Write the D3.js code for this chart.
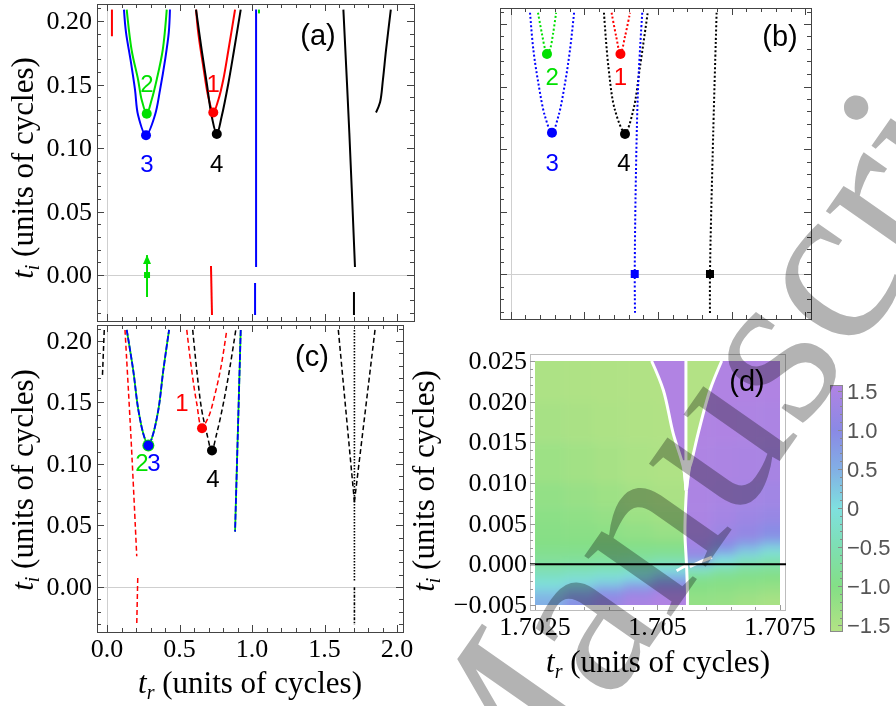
<!DOCTYPE html>
<html>
<head>
<meta charset="utf-8">
<script src="https://cdn.jsdelivr.net/npm/d3@7"></script>
<style>
  body { margin: 0; background: #fff; }
  svg { display: block; }
</style>
</head>
<body>
<svg width="896" height="706"></svg>
<script>
// ---------- data: points are [t_r, t_i] ----------
// panel (a) - solid
const aBlue   = [[0.117,0.209],[0.131,0.191],[0.163,0.169],[0.193,0.146],[0.214,0.126],[0.269,0.110],[0.331,0.126],[0.366,0.146],[0.400,0.169],[0.426,0.191],[0.434,0.209]];
const aGreen  = [[0.136,0.209],[0.170,0.177],[0.214,0.154],[0.239,0.138],[0.274,0.127],[0.308,0.138],[0.343,0.154],[0.384,0.177],[0.412,0.209]];
const aRed    = [[0.614,0.209],[0.630,0.190],[0.664,0.164],[0.699,0.140],[0.733,0.128],[0.768,0.138],[0.802,0.154],[0.837,0.177],[0.883,0.209]];
const aBlack  = [[0.614,0.209],[0.653,0.177],[0.688,0.151],[0.722,0.125],[0.757,0.111],[0.791,0.125],[0.837,0.151],[0.876,0.177],[0.922,0.209]];
const aRedTop = [[0.034,0.209],[0.034,0.188]];
const aRedLow = [[0.717,0.0071],[0.724,-0.0315]];
const aBlueV  = [[1.028,0.209],[1.028,0.0063]];
const aBlueV2 = [[1.021,-0.0063],[1.021,-0.0315]];
const aGreenTick = [[1.048,0.209],[1.048,0.206]];
const aBlackV  = [[1.630,0.209],[1.671,0.112],[1.710,0.0063]];
const aBlackV2 = [[1.703,-0.0134],[1.703,-0.0315]];
const aBlackR  = [[1.855,0.128],[1.883,0.136],[1.903,0.154],[1.924,0.177],[1.957,0.209]];
const aArrow   = [[0.276,-0.0173],[0.276,0.0157]];
const aDots    = [[0.269,0.110,"blue"],[0.274,0.127,"#00e000"],[0.733,0.128,"red"],[0.757,0.111,"black"]];
const aLabels  = [["2",0.276,0.151,"#00e000"],["1",0.733,0.151,"red"],["3",0.276,0.088,"blue"],["4",0.757,0.088,"black"]];

// panel (b) - dotted
const bBlue   = [[0.131,0.209],[0.153,0.180],[0.187,0.153],[0.233,0.126],[0.280,0.113],[0.323,0.126],[0.369,0.153],[0.403,0.180],[0.430,0.209]];
const bGreen  = [[0.185,0.209],[0.212,0.192],[0.233,0.180],[0.246,0.176],[0.267,0.180],[0.287,0.192],[0.308,0.209]];
const bRed    = [[0.685,0.209],[0.716,0.190],[0.745,0.176],[0.776,0.190],[0.810,0.209]];
const bBlack  = [[0.633,0.209],[0.663,0.166],[0.708,0.131],[0.776,0.113],[0.832,0.131],[0.878,0.166],[0.930,0.209]];
const bBlueV  = [[0.893,0.209],[0.866,0.153],[0.851,0.086],[0.842,0],[0.844,-0.032]];
const bBlackV = [[1.398,0.209],[1.375,0.113],[1.353,0],[1.353,-0.032]];
const bDots   = [[0.246,0.176,"#00e000"],[0.745,0.176,"red"],[0.280,0.113,"blue"],[0.776,0.112,"black"]];
const bSquares = [[0.842,0,"blue"],[1.353,0,"black"]];
const bLabels = [["2",0.282,0.158,"#00e000"],["1",0.744,0.158,"red"],["3",0.282,0.089,"blue"],["4",0.769,0.089,"black"]];

// panel (c) - dashed
const cBlackL = [[-0.019,0.209],[-0.032,0.170]];
const cRed    = [[0.124,0.209],[0.166,0.120],[0.205,0.025]];
const cRed2   = [[0.212,0.0073],[0.205,-0.031]];
const cBlueGreen = [[0.136,0.209],[0.181,0.176],[0.216,0.144],[0.257,0.122],[0.285,0.115],[0.312,0.122],[0.354,0.144],[0.388,0.176],[0.428,0.209]];
const cRedP   = [[0.550,0.209],[0.584,0.176],[0.619,0.149],[0.653,0.130],[0.699,0.138],[0.745,0.157],[0.786,0.179],[0.826,0.209]];
const cBlackP = [[0.591,0.209],[0.619,0.176],[0.653,0.144],[0.688,0.125],[0.722,0.111],[0.757,0.125],[0.802,0.149],[0.848,0.179],[0.888,0.209]];
const cBGLine = [[0.922,0.209],[0.883,0.045]];
const cV1     = [[1.595,0.209],[1.706,0.0693]];
const cV2     = [[1.848,0.209],[1.706,0.0693]];
const cCenter = [[1.706,0.209],[1.706,0.0043]];
const cCenter2 = [[1.706,-0.0003],[1.706,-0.031]];
const cDots   = [[0.285,0.115,"blue"],[0.655,0.129,"red"],[0.724,0.111,"black"]];
const cLabels = [["1",0.517,0.150,"red"],["2",0.241,0.101,"#00e000"],["3",0.324,0.101,"blue"],["4",0.731,0.088,"black"]];

// tick labels
const yTickVals = [0, 0.05, 0.10, 0.15, 0.20];
const xTickVals = [0, 0.5, 1.0, 1.5, 2.0];
const dYTicks = [-0.005, 0, 0.005, 0.010, 0.015, 0.020, 0.025];
const dXTicks = [1.7025, 1.705, 1.7075];
const cbTicks = [-1.5, -1.0, -0.5, 0, 0.5, 1.0, 1.5];

// panel (d) - phase map, values read per cell (radians)
const dYEdges = [0.025, 0.020, 0.015, 0.010, 0.007, 0.005, 0.003, 0.002, 0.001, 0, -0.001, -0.002, -0.003, -0.004, -0.005];
const dXLeft  = [1.7025, 1.7031, 1.7037, 1.7043, 1.7049, 1.70558];
const dXRight = [1.70558, 1.7061, 1.7066, 1.7071, 1.7075];
const phaseLeft = [
  [-1.50,-1.52,-1.54,-1.55,-1.56],
  [-1.42,-1.46,-1.50,-1.53,-1.55],
  [-1.30,-1.36,-1.43,-1.48,-1.52],
  [-1.18,-1.24,-1.32,-1.40,-1.47],
  [-1.10,-1.15,-1.22,-1.30,-1.38],
  [-1.05,-1.08,-1.12,-1.18,-1.25],
  [-1.00,-1.00,-1.00,-1.02,-1.05],
  [-0.90,-0.90,-0.88,-0.86,-0.85],
  [-0.80,-0.78,-0.75,-0.70,-0.60],
  [-0.55,-0.50,-0.45,-0.35,-0.10],
  [-0.30,-0.20,-0.10, 0.05, 0.40],
  [-0.05, 0.10, 0.30, 0.60, 1.00],
  [ 0.30, 0.60, 0.90, 1.20, 1.45],
  [ 0.50, 0.90, 1.20, 1.45, 1.55]
];
const phaseRight = [
  [1.56, 1.56, 1.55, 1.55],
  [1.55, 1.54, 1.52, 1.50],
  [1.52, 1.50, 1.47, 1.43],
  [1.50, 1.46, 1.40, 1.33],
  [1.48, 1.40, 1.30, 1.20],
  [1.45, 1.30, 1.15, 0.95],
  [1.35, 1.00, 0.70, 0.40],
  [1.20, 0.60, 0.20,-0.10],
  [0.80, 0.00,-0.35,-0.50],
  [-0.20,-0.50,-0.70,-0.75],
  [-0.80,-0.90,-0.95,-1.00],
  [-1.00,-1.05,-1.10,-1.15],
  [-1.10,-1.15,-1.22,-1.30],
  [-1.20,-1.25,-1.35,-1.45]
];
// white branch cuts in (d)
const cutLeft  = [[1.70488,0.025],[1.70512,0.0214],[1.70532,0.0161],[1.70549,0.0128],[1.70554,0.0116],[1.70558,0.0091]];
const cutRight = [[1.70631,0.025],[1.70607,0.0214],[1.70583,0.0161],[1.70570,0.0128],[1.70564,0.0116],[1.70559,0.0091]];
const cutMid   = [[1.70558,0.025],[1.70558,0.0091]];
const cutDown  = [[1.70559,0.0091],[1.70556,0.0040],[1.70559,0.0002],[1.70561,-0.003],[1.70561,-0.0055]];
const arcLeft  = [[1.70539,-0.0008],[1.70549,-0.00045],[1.70558,-0.0002]];
const arcRight = [[1.70566,-0.0003],[1.70587,0.0003],[1.70611,0.00087]];

// colour map of the phase
const phaseStops  = [-1.5708, -1.0, -0.5, 0, 0.5, 1.0, 1.5708];
const phaseColors = ["#b3e285", "#84df86", "#7edfb2", "#7fe0df", "#82afe5", "#8a89e5", "#b183e3"];

// ---------- drawing ----------
const svg = d3.select("svg");
const SERIF = "'Liberation Serif','Times New Roman',serif";
const SANS = "'Liberation Sans',Arial,sans-serif";

const phaseColor = d3.scaleLinear().domain(phaseStops).range(phaseColors);

const boxA = {x0: 97, x1: 414, y0: 4, y1: 321, xd: [-0.069, 2.117], yd: [-0.0362, 0.2134]};
const boxB = {x0: 500, x1: 811, y0: 8, y1: 319, xd: [-0.073, 2.039], yd: [-0.036, 0.2128]};
const boxC = {x0: 97, x1: 403, y0: 325, y1: 632, xd: [-0.069, 2.041], yd: [-0.0366, 0.213]};

function makeScales(b) {
    const sx = d3.scaleLinear().domain(b.xd).range([b.x0, b.x1]);
    const sy = d3.scaleLinear().domain(b.yd).range([b.y1, b.y0]);
    return [sx, sy];
}

function drawFrame(b, sx, sy) {
    const g = svg.append("g").attr("stroke", "#444").attr("stroke-width", 1);
    // zero lines
    g.append("line").attr("x1", b.x0).attr("x2", b.x1)
        .attr("y1", Math.round(sy(0)) + 0.5).attr("y2", Math.round(sy(0)) + 0.5)
        .attr("stroke", "#cfcfcf");
    g.append("line").attr("y1", b.y0).attr("y2", b.y1)
        .attr("x1", Math.round(sx(0)) + 0.5).attr("x2", Math.round(sx(0)) + 0.5)
        .attr("stroke", "#cfcfcf");
    g.append("rect").attr("x", b.x0 + 0.5).attr("y", b.y0 + 0.5)
        .attr("width", b.x1 - b.x0).attr("height", b.y1 - b.y0).attr("fill", "none");
    // ticks on all four sides, pointing in
    d3.range(-3, 22).forEach(k => {
        const yy = Math.round(sy(k / 100)) + 0.5;
        const len = k % 5 === 0 ? 7 : 4;
        g.append("line").attr("x1", b.x0).attr("x2", b.x0 + len).attr("y1", yy).attr("y2", yy);
        g.append("line").attr("x1", b.x1).attr("x2", b.x1 - len).attr("y1", yy).attr("y2", yy);
    });
    d3.range(0, 21).forEach(k => {
        const xx = Math.round(sx(k / 10)) + 0.5;
        const len = k % 5 === 0 ? 7 : 4;
        g.append("line").attr("y1", b.y0).attr("y2", b.y0 + len).attr("x1", xx).attr("x2", xx);
        g.append("line").attr("y1", b.y1).attr("y2", b.y1 - len).attr("x1", xx).attr("x2", xx);
    });
}

function curve(sx, sy, pts, color, width, dash) {
    const line = d3.line().x(d => sx(d[0])).y(d => sy(d[1])).curve(d3.curveCatmullRom.alpha(0.5));
    svg.append("path").attr("d", line(pts)).attr("fill", "none")
        .attr("stroke", color).attr("stroke-width", width)
        .attr("stroke-dasharray", dash || null);
}

function dots(sx, sy, data, r) {
    svg.append("g").selectAll("circle").data(data).enter().append("circle")
        .attr("cx", d => sx(d[0])).attr("cy", d => sy(d[1])).attr("r", r)
        .attr("fill", d => d[2]);
}

function numLabels(sx, sy, data) {
    svg.append("g").selectAll("text").data(data).enter().append("text")
        .attr("x", d => sx(d[1])).attr("y", d => sy(d[2]) + 8.5)
        .attr("text-anchor", "middle").attr("font-family", SANS).attr("font-size", 24)
        .attr("fill", d => d[3]).text(d => d[0]);
}

function panelTag(x, y, s) {
    svg.append("text").attr("x", x).attr("y", y).attr("text-anchor", "middle")
        .attr("font-family", SANS).attr("font-size", 29).text(s);
}

function axisTitle(x, y, sub, rotate) {
    const t = svg.append("text").attr("font-family", SERIF).attr("font-size", 31)
        .attr("text-anchor", "middle")
        .attr("transform", `translate(${x},${y})` + (rotate ? " rotate(-90)" : ""));
    t.append("tspan").attr("font-style", "italic").text("t");
    t.append("tspan").attr("font-style", "italic").attr("font-size", 20).attr("dy", 6).text(sub);
    t.append("tspan").attr("dy", -6).text(" (units of cycles)");
}

// ----- panel (a)
{
    const [sx, sy] = makeScales(boxA);
    drawFrame(boxA, sx, sy);
    svg.append("g").selectAll("text").data(yTickVals).enter().append("text")
        .attr("x", 92).attr("y", d => sy(d) + 8).attr("text-anchor", "end")
        .attr("font-family", SERIF).attr("font-size", 26).text(d => d.toFixed(2));
    curve(sx, sy, aBlue, "blue", 2);
    curve(sx, sy, aGreen, "#00e000", 2);
    curve(sx, sy, aRed, "red", 2);
    curve(sx, sy, aBlack, "black", 2);
    curve(sx, sy, aRedTop, "red", 2);
    curve(sx, sy, aRedLow, "red", 2);
    curve(sx, sy, aBlueV, "blue", 2);
    curve(sx, sy, aBlueV2, "blue", 2);
    curve(sx, sy, aGreenTick, "#00e000", 2);
    curve(sx, sy, aBlackV, "black", 2);
    curve(sx, sy, aBlackV2, "black", 2);
    curve(sx, sy, aBlackR, "black", 2);
    // green arrow with square
    curve(sx, sy, aArrow, "#00e000", 2);
    const ax = sx(aArrow[1][0]), ay = sy(aArrow[1][1]);
    svg.append("path").attr("d", `M${ax},${ay} l-4,9 l8,0 z`).attr("fill", "#00e000");
    svg.append("rect").attr("x", sx(aArrow[0][0]) - 3).attr("y", sy(0) - 3)
        .attr("width", 6).attr("height", 6).attr("fill", "#00e000");
    dots(sx, sy, aDots, 5);
    numLabels(sx, sy, aLabels);
    panelTag(318, 45, "(a)");
    axisTitle(33, 168, "i", true);
}

// ----- panel (b)
{
    const [sx, sy] = makeScales(boxB);
    drawFrame(boxB, sx, sy);
    const dot = "2,2.2";
    curve(sx, sy, bBlue, "blue", 2, dot);
    curve(sx, sy, bGreen, "#00e000", 2, dot);
    curve(sx, sy, bBlack, "black", 2, dot);
    curve(sx, sy, bRed, "red", 2, dot);
    curve(sx, sy, bBlueV, "blue", 2, dot);
    curve(sx, sy, bBlackV, "black", 2, dot);
    svg.append("g").selectAll("rect").data(bSquares).enter().append("rect")
        .attr("x", d => sx(d[0]) - 4).attr("y", d => sy(d[1]) - 4)
        .attr("width", 8).attr("height", 8).attr("fill", d => d[2]);
    dots(sx, sy, bDots, 5);
    numLabels(sx, sy, bLabels);
    panelTag(780, 46, "(b)");
}

// ----- panel (c)
{
    const [sx, sy] = makeScales(boxC);
    drawFrame(boxC, sx, sy);
    svg.append("g").selectAll("text").data(yTickVals).enter().append("text")
        .attr("x", 92).attr("y", d => sy(d) + 8).attr("text-anchor", "end")
        .attr("font-family", SERIF).attr("font-size", 26).text(d => d.toFixed(2));
    svg.append("g").selectAll("text").data(xTickVals).enter().append("text")
        .attr("x", d => sx(d)).attr("y", 657).attr("text-anchor", "middle")
        .attr("font-family", SERIF).attr("font-size", 26).text(d => d.toFixed(1));
    const dash = "5,3";
    curve(sx, sy, cBlackL, "black", 1.5, dash);
    curve(sx, sy, cRed, "red", 1.5, dash);
    curve(sx, sy, cRed2, "red", 1.5, dash);
    curve(sx, sy, cBlueGreen, "#00e000", 1.8);
    curve(sx, sy, cBlueGreen, "blue", 1.8, "6,2");
    curve(sx, sy, cRedP, "red", 1.5, dash);
    curve(sx, sy, cBlackP, "black", 1.5, dash);
    curve(sx, sy, cBGLine, "#00e000", 1.8);
    curve(sx, sy, cBGLine, "blue", 1.8, "6,2");
    curve(sx, sy, cV1, "black", 1.5, dash);
    curve(sx, sy, cV2, "black", 1.5, dash);
    curve(sx, sy, cCenter, "black", 1.6, "1.5,1.5");
    curve(sx, sy, cCenter2, "black", 1.6, "3,1.5,1.5,1.5");
    svg.append("circle").attr("cx", sx(cDots[0][0])).attr("cy", sy(cDots[0][1]))
        .attr("r", 6).attr("fill", "#00e000");
    dots(sx, sy, cDots, 5);
    numLabels(sx, sy, cLabels);
    panelTag(312, 366, "(c)");
    axisTitle(33, 480, "i", true);
    axisTitle(250, 693, "r", false);
}

// ----- panel (d)
{
    const sx = d3.scaleLinear().domain([1.7025, 1.7075]).range([535, 780]);
    const sy = d3.scaleLinear().domain([-0.005, 0.025]).range([605, 361]);
    const defs = svg.append("defs");
    defs.append("filter").attr("id", "soft").attr("x", "-20%").attr("y", "-20%")
        .attr("width", "140%").attr("height", "140%")
        .append("feGaussianBlur").attr("stdDeviation", 5);
    defs.append("clipPath").attr("id", "clipL").append("rect")
        .attr("x", sx(1.7025)).attr("y", sy(0.025))
        .attr("width", sx(1.70558) - sx(1.7025)).attr("height", sy(-0.005) - sy(0.025));
    defs.append("clipPath").attr("id", "clipR").append("rect")
        .attr("x", sx(1.70558)).attr("y", sy(0.025))
        .attr("width", sx(1.7075) - sx(1.70558)).attr("height", sy(-0.005) - sy(0.025));

    // frame
    svg.append("rect").attr("x", 530.5).attr("y", 354.5).attr("width", 255).attr("height", 256)
        .attr("fill", "white").attr("stroke", "#bdbdbd");

    function cells(xEdges, values, clipId) {
        const g = svg.append("g").attr("clip-path", `url(#${clipId})`)
            .append("g").attr("filter", "url(#soft)");
        const nR = values.length, nC = xEdges.length - 1;
        values.forEach((row, i) => row.forEach((v, j) => {
            let x0 = sx(xEdges[j]), x1 = sx(xEdges[j + 1]);
            let y0 = sy(dYEdges[i]), y1 = sy(dYEdges[i + 1]);
            if (j === 0) x0 -= 20;
            if (j === nC - 1) x1 += 20;
            if (i === 0) y0 -= 20;
            if (i === nR - 1) y1 += 20;
            g.append("rect").attr("x", x0).attr("y", y0)
                .attr("width", x1 - x0 + 0.5).attr("height", y1 - y0 + 0.5)
                .attr("fill", phaseColor(v));
        }));
    }
    cells(dXLeft, phaseLeft, "clipL");
    cells(dXRight, phaseRight, "clipR");

    // wedges between the cuts at the top: purple on the left of the middle cut, green on the right
    const poly = pts => "M" + pts.map(p => `${sx(p[0])},${sy(p[1])}`).join("L") + "Z";
    svg.append("path").attr("d", poly(cutLeft.concat([[1.70558, 0.025]])))
        .attr("fill", "#b183e3");
    svg.append("path").attr("d", poly(cutRight.concat([[1.70558, 0.025]])))
        .attr("fill", "#b3e285");

    const wline = d3.line().x(d => sx(d[0])).y(d => sy(d[1])).curve(d3.curveCatmullRom.alpha(0.5));
    [cutLeft, cutRight, cutMid, cutDown, arcLeft, arcRight].forEach(pts => {
        svg.append("path").attr("d", wline(pts)).attr("fill", "none")
            .attr("stroke", "white").attr("stroke-width", 3);
    });
    // white blob where the cuts meet
    svg.append("path").attr("d", poly([[1.70549, 0.0128], [1.70570, 0.0128], [1.70562, 0.0091], [1.70556, 0.0091]]))
        .attr("fill", "white");

    // zero line
    svg.append("line").attr("x1", 530).attr("x2", 786)
        .attr("y1", sy(0)).attr("y2", sy(0)).attr("stroke", "black").attr("stroke-width", 2);

    // ticks and labels
    const tg = svg.append("g").attr("stroke", "#999").attr("stroke-width", 1);
    d3.range(-5, 26).forEach(k => {
        const yy = Math.round(sy(k / 1000)) + 0.5;
        tg.append("line").attr("x1", 530).attr("x2", k % 5 === 0 ? 535 : 533).attr("y1", yy).attr("y2", yy);
    });
    d3.range(0, 11).forEach(k => {
        const xx = Math.round(sx(1.7025 + k * 0.0005)) + 0.5;
        tg.append("line").attr("y1", 610).attr("y2", k % 5 === 0 ? 605 : 607).attr("x1", xx).attr("x2", xx);
    });
    svg.append("g").selectAll("text").data(dYTicks).enter().append("text")
        .attr("x", 527).attr("y", d => sy(d) + 8).attr("text-anchor", "end")
        .attr("font-family", SERIF).attr("font-size", 26)
        .text(d => (d < 0 ? "\u2212" : "") + Math.abs(d).toFixed(3));
    svg.append("g").selectAll("text").data(dXTicks).enter().append("text")
        .attr("x", d => sx(d)).attr("y", 635).attr("text-anchor", "middle")
        .attr("font-family", SERIF).attr("font-size", 26).text(d => String(d));
    panelTag(747, 391, "(d)");
    axisTitle(658, 672, "r", false);
    axisTitle(434, 481, "i", true);

    // colour bar
    const cb = d3.scaleLinear().domain([-1.5708, 1.5708]).range([631, 385]);
    const grad = defs.append("linearGradient").attr("id", "cbar")
        .attr("x1", 0).attr("x2", 0).attr("y1", 1).attr("y2", 0);
    phaseStops.forEach((v, i) => grad.append("stop")
        .attr("offset", (v + 1.5708) / 3.1416).attr("stop-color", phaseColors[i]));
    svg.append("rect").attr("x", 830.5).attr("y", 385.5).attr("width", 12).attr("height", 246)
        .attr("fill", "url(#cbar)").attr("stroke", "#8a8a8a");
    const cg = svg.append("g").attr("stroke", "#8a8a8a");
    d3.range(-15, 16).forEach(k => {
        const yy = Math.round(cb(k / 10)) + 0.5;
        cg.append("line").attr("x1", 842).attr("x2", k % 5 === 0 ? 838 : 840).attr("y1", yy).attr("y2", yy);
    });
    svg.append("g").selectAll("text").data(cbTicks).enter().append("text")
        .attr("x", 847).attr("y", d => cb(d) + 8)
        .attr("font-family", SANS).attr("font-size", 22).attr("fill", "#555")
        .text(d => d === 0 ? "0" : (d < 0 ? "\u2212" : "") + Math.abs(d).toFixed(1));
}

// ----- gray watermark laid over the whole figure
svg.append("text")
    .attr("transform", "translate(492,872) rotate(-55)")
    .attr("font-family", SERIF).attr("font-size", 230)
    .attr("fill", "#b3b3b3").style("mix-blend-mode", "multiply")
    .text("Manuscript");
</script>
</body>
</html>
